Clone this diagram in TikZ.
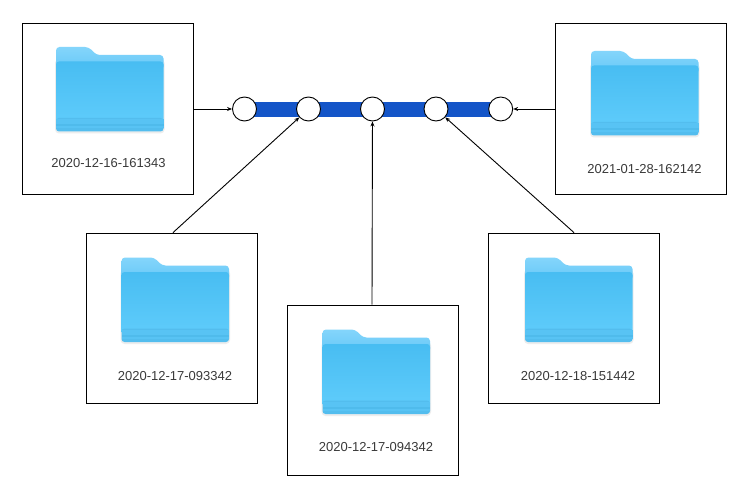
\documentclass[tikz,border=0pt]{standalone}
\usepackage{fontspec}
\setmainfont{Liberation Sans}
\usetikzlibrary{arrows.meta}
\definecolor{barblue}{HTML}{1455C8}
\definecolor{fbacktop}{HTML}{84D5FB}
\definecolor{fbackbot}{HTML}{66C8F7}
\definecolor{ftop}{HTML}{48BDF2}
\definecolor{fmid}{HTML}{50C3F6}
\definecolor{fbot}{HTML}{5FCCFB}
\definecolor{fbanda}{HTML}{58C3F4}
\definecolor{fbandb}{HTML}{4FBBEC}
\definecolor{fbandc}{HTML}{53BDEE}
\definecolor{labelgray}{HTML}{3A3A3A}
\tikzset{
  x=1pt,y=-1pt,
  framebox/.style={draw=black,line width=1pt,fill=white,minimum width=171pt,minimum height=170.8pt,inner sep=0pt,anchor=center},
  dot/.style={circle,draw=black,line width=0.9pt,fill=white,minimum size=24pt,inner sep=0pt},
  link/.style={draw=black,line width=0.9pt,-{Stealth[length=5pt,width=4pt]}},
  caption/.style={text=labelgray,font=\fontsize{13}{15}\selectfont,inner sep=0pt},
  folder/.pic={
    \fill[black!7,rounded corners=4pt] (-54.5,-31) rectangle (55,43.5);
    \shade[top color=fbacktop,bottom color=fbackbot,rounded corners=3.5pt] (-53.5,-25) -- (-53.5,-43) -- (-21,-43) -- (-13,-35) -- (54,-35) -- (54,-20) -- (-53.5,-20) -- cycle;
    \shade[top color=ftop,middle color=fmid,bottom color=fbot,rounded corners=3pt] (-53.5,-28.5) -- (54,-28.5) -- (54,34) -- (-53.5,34) -- cycle;
    \fill[fbandc,rounded corners=3pt] (-53.5,28) -- (54,28) -- (54,41.5) -- (-53.5,41.5) -- cycle;
    \fill[fbanda] (-53.5,29) rectangle (54,34);
    \fill[fbandb] (-53.5,34) rectangle (54,36);
    \fill[fbanda] (-53.5,36) rectangle (54,38);
  }
}
\begin{document}
\begin{tikzpicture}
\useasboundingbox (0,0) rectangle (750,500);
\node[framebox] (b1) at (107.5,109) {};
\node[framebox] (b2) at (171.5,318.5) {};
\node[framebox] (b3) at (373,390.5) {};
\node[framebox] (b4) at (574,318.5) {};
\node[framebox] (b5) at (640.5,109) {};

\fill[barblue] (244.5,101.7) rectangle (500.7,117.3);

\node[dot] (c1) at (244.5,109) {};
\node[dot] (c2) at (308.5,109) {};
\node[dot] (c3) at (372.5,109) {};
\node[dot] (c4) at (436,109) {};
\node[dot] (c5) at (500.7,109) {};

\pic at (109.5,90) {folder};
\pic at (175,300.5) {folder};
\pic at (376,372.5) {folder};
\pic at (578.5,300.5) {folder};
\pic at (644.5,94) {folder};

\node[caption] (t1) at (108.5,163.5) {2020-12-16-161343};
\node[caption] (t2) at (175,376) {2020-12-17-093342};
\node[caption] (t3) at (376,447.5) {2020-12-17-094342};
\node[caption] (t4) at (578,376) {2020-12-18-151442};
\node[caption] (t5) at (644.5,169.5) {2021-01-28-162142};

\draw[link] (b1.east) -- (c1);
\draw[link] ([xshift=1.5pt]b2.north) -- (c2);
\draw[link] ([xshift=-1pt]b3.north) -- (c3);
\draw[link] (b4.north) -- (c4);
\draw[link] (b5.west) -- (c5);
\end{tikzpicture}
\end{document}
